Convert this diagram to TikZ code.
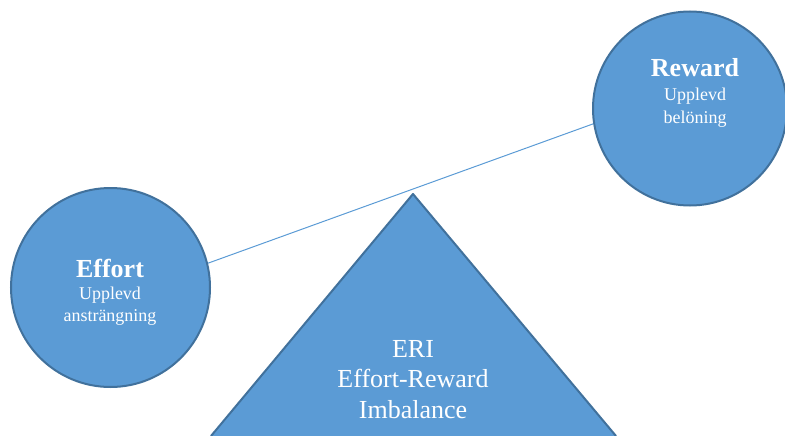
\documentclass[tikz,border=0pt]{standalone}
\usepackage{fontspec}
\setmainfont{Liberation Serif}
\usetikzlibrary{positioning}
\definecolor{eriblue}{HTML}{5B9BD5}
\definecolor{eriedge}{HTML}{41719C}
\begin{document}
\begin{tikzpicture}[x = 1pt, y = -1pt,
	ball/.style = {circle, draw = eriedge, fill = eriblue, line width = 2pt, inner sep = 0pt},
	title/.style = {text = white, font = \bfseries\fontsize{26}{30}\selectfont, inner sep = 0pt},
	sub/.style = {text = white, font = \fontsize{18}{22}\selectfont, align = center, inner sep = 0pt},
	big/.style = {text = white, font = \fontsize{26}{30.5}\selectfont, align = center, inner sep = 0pt}]
	\useasboundingbox (0,0) rectangle (785,436);
	\clip (0,0) rectangle (785,436);

	% fulcrum
	\fill[eriblue] (413,194) -- (211,436) -- (616,436) -- cycle;
	\draw[eriedge, line width = 2pt, line join = round] (211,436) -- (413,194) -- (616,436);
	% base anchor = baseline of the last line
	\node[big, anchor = base] (eri) at (413,418) {ERI\\Effort-Reward\\Imbalance};

	% the two weights
	\node[ball, minimum size = 199pt] (effort) at (110.5,287.5) {};
	\node[ball, minimum size = 194pt] (reward) at (690,108.5) {};
	\draw[eriblue, line width = 1pt] (effort.14) -- (reward.189);

	\node[title, anchor = base] (efforttitle) at (110,277) {Effort};
	\node[sub, anchor = base] (effortsub) at (110,321) {Upplevd\\ansträngning};
	\node[title, anchor = base] (rewardtitle) at (695,77) {Reward};
	\node[sub, anchor = base] (rewardsub) at (695,123) {Upplevd\\belöning};
\end{tikzpicture}
\end{document}
